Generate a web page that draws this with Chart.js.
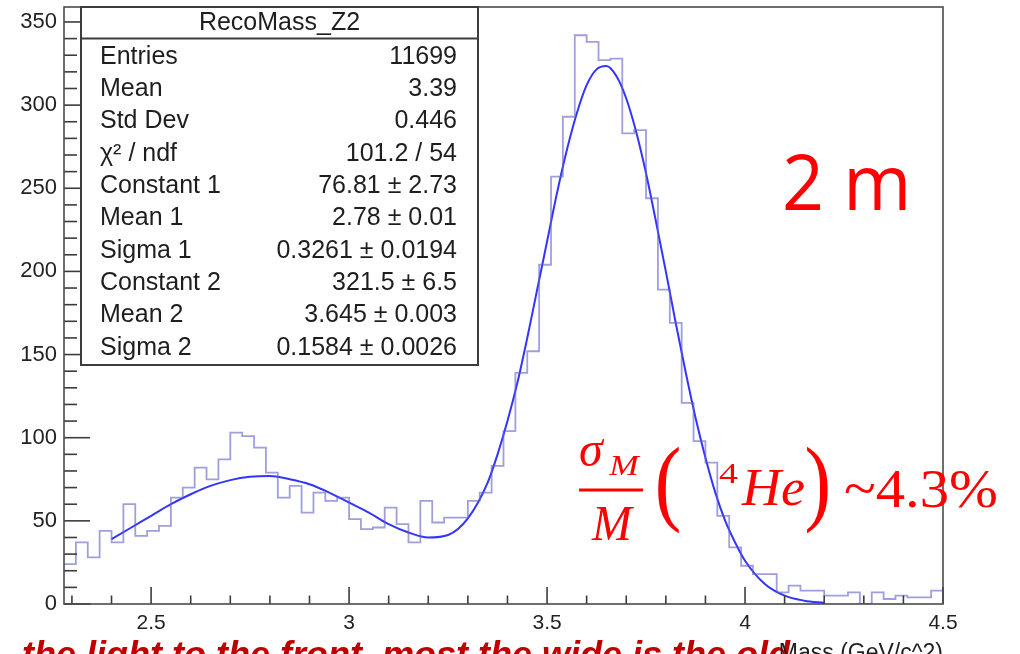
<!DOCTYPE html>
<html>
<head>
<meta charset="utf-8">
<script src="https://cdn.jsdelivr.net/npm/chart.js"></script>
<style>
html, body { margin: 0; padding: 0; background: #fff; overflow: hidden; }
#c { display: block; }
</style>
</head>
<body>
<canvas id="c" width="1020" height="654"></canvas>
<script>
// histogram bins (low edges, width 0.03) and counts
const binLow = [
  2.28, 2.31, 2.34, 2.37, 2.40, 2.43, 2.46, 2.49, 2.52, 2.55,
  2.58, 2.61, 2.64, 2.67, 2.70, 2.73, 2.76, 2.79, 2.82, 2.85,
  2.88, 2.91, 2.94, 2.97, 3.00, 3.03, 3.06, 3.09, 3.12, 3.15,
  3.18, 3.21, 3.24, 3.27, 3.30, 3.33, 3.36, 3.39, 3.42, 3.45,
  3.48, 3.51, 3.54, 3.57, 3.60, 3.63, 3.66, 3.69, 3.72, 3.75,
  3.78, 3.81, 3.84, 3.87, 3.90, 3.93, 3.96, 3.99, 4.02, 4.05,
  4.08, 4.11, 4.14, 4.17, 4.20, 4.23, 4.26, 4.29, 4.32, 4.35,
  4.38, 4.41, 4.44, 4.47
];
const binEnd = 4.50;
const counts = [
  24, 37, 28, 44, 37, 60, 41, 44, 47, 64,
  70, 82, 75, 87, 103, 101, 94, 79, 64, 71,
  55, 67, 62, 64, 51, 45, 46, 58, 48, 37,
  62, 49, 52, 52, 62, 67, 83, 104, 139, 152,
  204, 257, 293, 342, 338, 327, 328, 283, 285, 244,
  189, 169, 121, 98, 85, 53, 34, 23, 18, 18,
  7, 11, 8, 8, 5, 5, 7, 0, 7, 3,
  5, 4, 4, 8
];

// fit curve
const fitX = [
  2.40, 2.45, 2.50, 2.55, 2.60, 2.65, 2.70, 2.75, 2.80, 2.85,
  2.90, 2.95, 3.00, 3.05, 3.10, 3.15, 3.20, 3.25, 3.30, 3.35,
  3.375, 3.40, 3.425, 3.45, 3.475, 3.50, 3.525, 3.55, 3.575, 3.60,
  3.625, 3.65, 3.675, 3.70, 3.725, 3.75, 3.775, 3.80, 3.825, 3.85,
  3.875, 3.90, 3.925, 3.95, 3.975, 4.00, 4.05, 4.10, 4.15, 4.20
];
const fitY = [
  39, 46, 53, 60, 66, 71, 74.5, 76.5, 77, 75,
  72, 67, 61, 55, 48, 43, 40, 41.5, 51.5, 73,
  90, 110, 133, 160, 189, 218, 247, 273, 295, 312,
  321.5, 323.5, 317.5, 304, 284, 259, 230, 200, 169, 139.5,
  112, 88, 67, 50, 37, 26, 12, 5, 2, 0.7
];

const xTicks = [2.5, 3, 3.5, 4, 4.5];
const yTicks = [0, 50, 100, 150, 200, 250, 300, 350];

const statsTitle = 'RecoMass_Z2';
const statsNames = ['Entries', 'Mean', 'Std Dev', 'χ² / ndf', 'Constant 1', 'Mean 1', 'Sigma 1', 'Constant 2', 'Mean 2', 'Sigma 2'];
const statsValues = ['11699', '3.39', '0.446', '101.2 / 54', '76.81 ± 2.73', '2.78 ± 0.01', '0.3261 ± 0.0194', '321.5 ± 6.5', '3.645 ± 0.003', '0.1584 ± 0.0026'];

const histPoints = binLow.map((x, i) => ({ x: x, y: counts[i] }));
histPoints.push({ x: binEnd, y: counts[counts.length - 1] });
const fitPoints = fitX.map((x, i) => ({ x: x, y: fitY[i] }));

const SANS = '"Liberation Sans", Arial, Helvetica, sans-serif';
const SERIF = '"Liberation Serif", "DejaVu Serif", serif';

// draw text squeezed/stretched so its ink spans left..right
function fitText(ctx, text, left, right, baseline) {
  ctx.save();
  ctx.textAlign = 'left';
  ctx.textBaseline = 'alphabetic';
  const m = ctx.measureText(text);
  const w = m.actualBoundingBoxLeft + m.actualBoundingBoxRight;
  const sx = (right - left) / w;
  ctx.translate(left, baseline);
  ctx.scale(sx, 1);
  ctx.fillText(text, m.actualBoundingBoxLeft, 0);
  ctx.restore();
}

const rootFrame = {
  id: 'rootFrame',
  afterDatasetsDraw(chart) {
    const { ctx, chartArea: a, scales: { x, y } } = chart;
    ctx.save();
    ctx.strokeStyle = '#3c3c3c';
    ctx.lineWidth = 1.6;
    // y ticks, inward
    for (let v = 0; v <= 350; v += 10) {
      const py = y.getPixelForValue(v);
      const len = v % 50 === 0 ? 26 : 13;
      ctx.beginPath();
      ctx.moveTo(a.left, py);
      ctx.lineTo(a.left + len, py);
      ctx.stroke();
    }
    // x ticks, inward
    for (let i = 0; i <= 22; i++) {
      const v = 2.3 + i * 0.1;
      const px = x.getPixelForValue(v);
      const major = Math.abs(v * 2 - Math.round(v * 2)) < 1e-6;
      const len = major ? 17 : 8.5;
      ctx.beginPath();
      ctx.moveTo(px, a.bottom);
      ctx.lineTo(px, a.bottom - len);
      ctx.stroke();
    }
    ctx.strokeStyle = '#4a4a4a';
    ctx.strokeRect(a.left, a.top, a.right - a.left, a.bottom - a.top);
    ctx.restore();
  },
  afterDraw(chart) {
    const ctx = chart.ctx;
    ctx.save();

    // stats box
    const bx = 81, by = 7, bw = 397, bh = 358;
    ctx.fillStyle = '#fff';
    ctx.fillRect(bx, by, bw, bh);
    ctx.strokeStyle = '#3c3c3c';
    ctx.lineWidth = 2;
    ctx.strokeRect(bx, by, bw, bh);
    ctx.beginPath();
    ctx.moveTo(bx, 38.5);
    ctx.lineTo(bx + bw, 38.5);
    ctx.stroke();

    ctx.fillStyle = '#1e1e1e';
    ctx.font = '25px ' + SANS;
    ctx.textBaseline = 'middle';
    ctx.textAlign = 'center';
    ctx.fillText(statsTitle, bx + bw / 2, 23);
    for (let i = 0; i < statsNames.length; i++) {
      const ty = 57 + i * 32.3;
      ctx.textAlign = 'left';
      ctx.fillText(statsNames[i], 100, ty);
      ctx.textAlign = 'right';
      ctx.fillText(statsValues[i], 457, ty);
    }

    // red annotations
    ctx.fillStyle = '#ff0000';
    ctx.font = '76px "Open Sans", "Noto Sans", sans-serif';
    fitText(ctx, '2 m', 785, 906, 210);

    ctx.font = 'italic 50px ' + SERIF;
    fitText(ctx, 'σ', 580, 605, 466);
    ctx.font = 'italic 30px ' + SERIF;
    fitText(ctx, 'M', 608, 641, 475);
    ctx.fillRect(579, 488.5, 64, 3);
    ctx.font = 'italic 50px ' + SERIF;
    fitText(ctx, 'M', 591, 634, 540);
    ctx.font = '95px ' + SERIF;
    fitText(ctx, '(', 658, 679, 513);
    fitText(ctx, ')', 807, 828, 513);
    ctx.font = '30px ' + SERIF;
    fitText(ctx, '4', 719, 738, 483);
    ctx.font = 'italic 52px ' + SERIF;
    fitText(ctx, 'He', 741, 804, 505);
    ctx.font = '55px ' + SERIF;
    fitText(ctx, '~4.3%', 845, 996, 507);

    // slide caption, cut off at the bottom edge
    ctx.fillStyle = '#c00000';
    ctx.font = 'italic bold 36px ' + SANS;
    ctx.textAlign = 'left';
    ctx.textBaseline = 'alphabetic';
    ctx.fillText('the light to the front, most the wide is the old', 22, 667);

    // axis title
    ctx.fillStyle = '#1e1e1e';
    ctx.font = '23px ' + SANS;
    ctx.textAlign = 'right';
    ctx.fillText('Mass (GeV/c^2)', 943, 660);

    ctx.restore();
  }
};

new Chart(document.getElementById('c'), {
  type: 'line',
  data: {
    datasets: [
      {
        label: 'RecoMass_Z2',
        data: histPoints,
        stepped: 'before',
        borderColor: 'rgba(95, 95, 200, 0.6)',
        borderWidth: 1.8,
        pointRadius: 0,
        fill: false
      },
      {
        label: 'fit',
        data: fitPoints,
        borderColor: '#3434ff',
        borderWidth: 2,
        pointRadius: 0,
        cubicInterpolationMode: 'monotone',
        fill: false
      }
    ]
  },
  options: {
    responsive: false,
    animation: false,
    devicePixelRatio: 1,
    layout: { padding: { left: 0, top: 7, right: 77, bottom: 0 } },
    plugins: { legend: { display: false }, tooltip: { enabled: false } },
    scales: {
      x: {
        type: 'linear',
        min: 2.28,
        max: 4.5,
        grid: { display: false, drawTicks: false },
        border: { display: false },
        afterBuildTicks: s => { s.ticks = xTicks.map(v => ({ value: v })); },
        afterFit: s => { s.height = 50; s.paddingLeft = 0; s.paddingRight = 0; },
        ticks: {
          autoSkip: false,
          maxRotation: 0,
          padding: 7,
          color: '#222',
          font: { family: SANS, size: 21 },
          callback: v => String(v)
        }
      },
      y: {
        min: 0,
        max: 359,
        grid: { display: false, drawTicks: false },
        border: { display: false },
        afterBuildTicks: s => { s.ticks = yTicks.map(v => ({ value: v })); },
        afterFit: s => { s.width = 64; s.paddingTop = 0; s.paddingBottom = 0; },
        ticks: {
          padding: 7,
          color: '#222',
          font: { family: SANS, size: 22, lineHeight: 0.6 },
          callback: v => String(v)
        }
      }
    }
  },
  plugins: [rootFrame]
});
</script>
</body>
</html>
